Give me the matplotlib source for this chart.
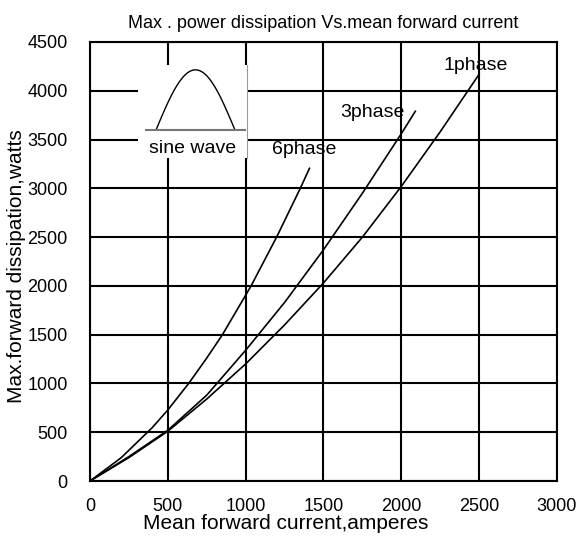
import numpy as np
import matplotlib
matplotlib.use('Agg')
import matplotlib.pyplot as plt

plt.rcParams['font.family'] = ['Liberation Sans', 'DejaVu Sans']

# values (amperes, watts)
phase1_x = [0, 250, 500, 750, 1000, 1250, 1500, 1750, 2000, 2250, 2500]
phase1_y = [0, 240, 510, 840, 1200, 1600, 2030, 2500, 3020, 3580, 4170]

phase3_x = [0, 250, 500, 750, 1000, 1250, 1500, 1750, 2000, 2090]
phase3_y = [0, 250, 520, 880, 1340, 1830, 2370, 2950, 3560, 3790]

phase6_x = [0, 200, 400, 500, 634, 750, 851, 1035, 1202, 1351, 1410]
phase6_y = [0, 238, 547, 728, 1000, 1260, 1500, 2000, 2510, 3000, 3205]

x_ticks = [0, 500, 1000, 1500, 2000, 2500, 3000]
y_ticks = [0, 500, 1000, 1500, 2000, 2500, 3000, 3500, 4000, 4500]

fig = plt.figure(figsize=(5.79, 5.41), dpi=100)
ax = fig.add_axes([0.1554, 0.1109, 0.8066, 0.8115])

line_width = 1.2
ax.plot(phase1_x, phase1_y, color='black', linewidth=line_width)
ax.plot(phase3_x, phase3_y, color='black', linewidth=line_width)
ax.plot(phase6_x, phase6_y, color='black', linewidth=line_width)

ax.text(2268, 4264, '1phase', fontsize=14, ha='left', va='center')
ax.text(1606, 3782, '3phase', fontsize=14, ha='left', va='center')
ax.text(1169, 3393, '6phase', fontsize=14, ha='left', va='center')

ax.set_xlim(0, 3000)
ax.set_ylim(0, 4500)
ax.set_xticks(x_ticks)
ax.set_yticks(y_ticks)
ax.tick_params(length=0, labelsize=13)
ax.tick_params(axis='x', pad=12)
ax.tick_params(axis='y', pad=16)
ax.grid(True, color='black', linewidth=1.5)
for s in ax.spines.values():
    s.set_linewidth(1.5)

ax.set_xlabel('Mean forward current,amperes', fontsize=15, labelpad=-1)
ax.xaxis.set_label_coords(0.42, -0.075)
ax.set_ylabel('Max.forward dissipation,watts', fontsize=15)
ax.yaxis.set_label_coords(-0.136, 0.49)
ax.set_title('Max . power dissipation Vs.mean forward current', fontsize=13, pad=10)

# little "sine wave" sketch in the top-left corner
ins = ax.inset_axes([0.103, 0.736, 0.233, 0.212])
ins.set_xlim(0, 1)
ins.set_ylim(0, 1)
ins.set_facecolor('white')
ins.set_xticks([])
ins.set_yticks([])
for s in ins.spines.values():
    s.set_visible(False)
ins.spines['right'].set_visible(True)
ins.spines['right'].set_color('#999999')
ins.spines['right'].set_linewidth(0.8)
t = np.linspace(0, np.pi, 60)
ins.plot(0.165 + (0.89 - 0.165) * t / np.pi, 0.30 + 0.646 * np.sin(t), color='black', linewidth=1)
ins.plot([0.073, 0.98], [0.30, 0.30], color='#777777', linewidth=1.5)
ins.text(0.5, 0.10, 'sine wave', fontsize=14, ha='center', va='center')

fig.savefig('out.png', dpi=100)
